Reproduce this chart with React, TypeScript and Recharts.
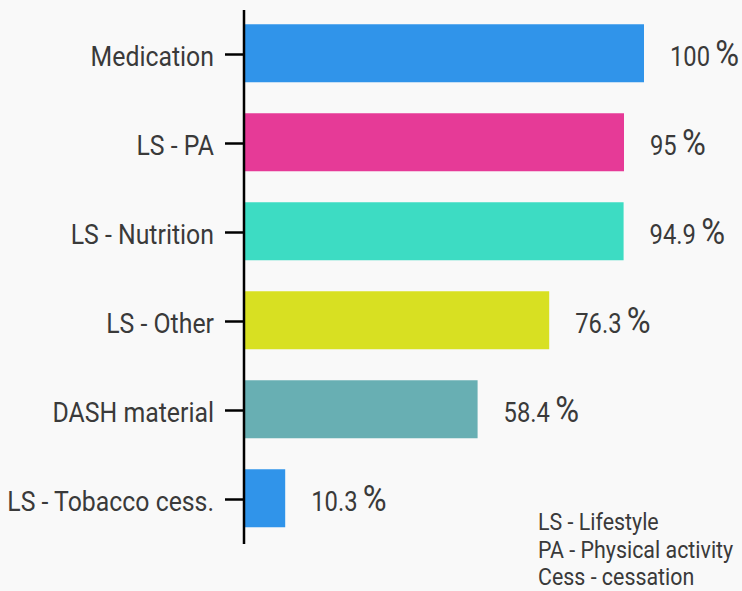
import { BarChart, Bar, XAxis, YAxis, Cell, LabelList, Rectangle } from "recharts";

const categories = [
  "Medication",
  "LS - PA",
  "LS - Nutrition",
  "LS - Other",
  "DASH material",
  "LS - Tobacco cess.",
];
const percents = [100, 95, 94.9, 76.3, 58.4, 10.3];
const colors = ["#3094ea", "#e63a97", "#3ddcc3", "#d8e022", "#68afb3", "#3094ea"];
const notes = ["LS - Lifestyle", "PA - Physical activity", "Cess - cessation"];

const data = categories.map((name, i) => ({ name, value: percents[i] }));

const FONT = "Roboto, 'Noto Sans', sans-serif";
const TEXT = "#3a3a3a";

const CategoryTick = (props: any) => {
  const { x, y, payload } = props;
  return (
    <text
      transform={`translate(${x},${y + 11}) scale(0.92,1)`}
      textAnchor="end"
      fontFamily={FONT}
      fontSize={27}
      fill={TEXT}
    >
      {payload.value}
    </text>
  );
};

// bars sit a touch above the tick in the original
const ShiftedBar = (props: any) => <Rectangle {...props} y={props.y - 1.5} />;

const ValueLabel = (props: any) => {
  const { x, y, width, height, value } = props;
  const cx = Number(x) + Number(width) + 26;
  const cy = Number(y) + Number(height) / 2 + 11.5;
  return (
    <text
      transform={`translate(${cx},${cy}) scale(0.88,1)`}
      fontFamily={FONT}
      fill={TEXT}
    >
      <tspan fontSize={27}>{value}</tspan>
      <tspan fontSize={37} dx={6}>%</tspan>
    </text>
  );
};

export default function App() {
  return (
    <div
      style={{
        position: "absolute",
        left: 0,
        top: 0,
        width: 742,
        height: 591,
        background: "#f9f9f9",
        overflow: "hidden",
      }}
    >
      <BarChart
        width={742}
        height={591}
        data={data}
        layout="vertical"
        margin={{ top: 10, right: 98, bottom: 47, left: 0 }}
        barCategoryGap="17.6%"
      >
        <XAxis type="number" domain={[0, 100]} hide />
        <YAxis
          type="category"
          dataKey="name"
          width={244}
          axisLine={{ stroke: "#000", strokeWidth: 2.5 }}
          tickLine={{ stroke: "#000", strokeWidth: 2.5 }}
          tickSize={19}
          tickMargin={11}
          tick={<CategoryTick />}
          interval={0}
        />
        <Bar dataKey="value" isAnimationActive={false} shape={<ShiftedBar />}>
          {data.map((d, i) => (
            <Cell key={d.name} fill={colors[i]} />
          ))}
          <LabelList dataKey="value" content={<ValueLabel />} />
        </Bar>
      </BarChart>
      <div
        style={{
          position: "absolute",
          left: 538,
          top: 509,
          fontFamily: FONT,
          fontSize: 23,
          lineHeight: "27.5px",
          color: TEXT,
          transform: "scaleX(0.93)",
          transformOrigin: "left top",
          whiteSpace: "nowrap",
        }}
      >
        {notes.map((n) => (
          <div key={n}>{n}</div>
        ))}
      </div>
    </div>
  );
}
